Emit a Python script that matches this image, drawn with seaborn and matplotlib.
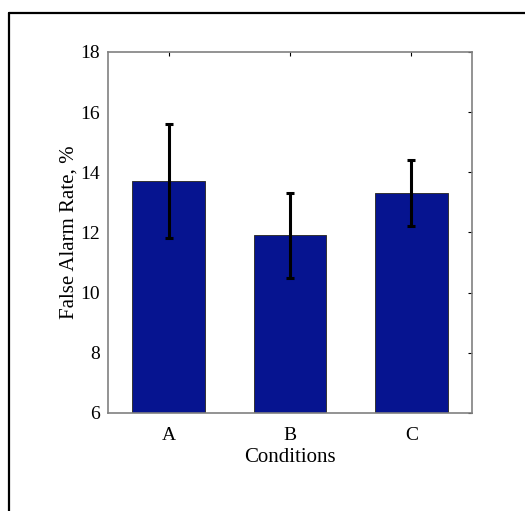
import pandas as pd
import matplotlib
matplotlib.use("Agg")
import matplotlib.pyplot as plt
from matplotlib.lines import Line2D
import seaborn as sns

# Dane
conditions = ["A", "B", "C"]
rates = [13.7, 11.9, 13.3]
errors = [1.9, 1.4, 1.1]

df = pd.DataFrame({"condition": conditions, "rate": rates, "err": errors})

sns.set_style("white")
plt.rcParams["font.family"] = ["Liberation Serif", "DejaVu Serif"]
plt.rcParams["font.size"] = 14
plt.rcParams["text.color"] = "black"
plt.rcParams["axes.labelcolor"] = "black"
plt.rcParams["xtick.color"] = "black"
plt.rcParams["ytick.color"] = "black"

fig = plt.figure(figsize=(5.25, 5.11), dpi=100)
ax = fig.add_axes([0.2057, 0.1918, 0.6933, 0.7065])

sns.barplot(data=df, x="condition", y="rate", color="#061490", saturation=1,
            width=0.6, errorbar=None, edgecolor="#333333", linewidth=0.7, ax=ax)

ax.errorbar(x=range(len(df)), y=df["rate"], yerr=df["err"], fmt="none",
            ecolor="black", elinewidth=2.2, capsize=3, capthick=2.2, zorder=5)

ax.set_ylim(6, 18)
ax.set_xlim(-0.5, 2.5)
ax.set_yticks([6, 8, 10, 12, 14, 16, 18])
ax.set_xlabel("Conditions", fontsize=15, labelpad=3)
ax.set_ylabel("False Alarm Rate, %", fontsize=15, labelpad=1)
ax.tick_params(direction="in", top=True, right=True, length=3, width=0.8,
               colors="black", labelsize=14)
ax.tick_params(axis="x", pad=10)
ax.tick_params(axis="y", pad=6)
for s in ax.spines.values():
    s.set_visible(True)
    s.set_color("#808080")
    s.set_linewidth(1.2)

# ramka wokół figury (ucięta z prawej i od dołu)
fig.add_artist(Line2D([0.018, 1.0], [0.9755, 0.9755], color="black", lw=1.6,
                      transform=fig.transFigure))
fig.add_artist(Line2D([0.018, 0.018], [0.0, 0.9755], color="black", lw=1.6,
                      transform=fig.transFigure))

fig.savefig("out.png", dpi=100)
